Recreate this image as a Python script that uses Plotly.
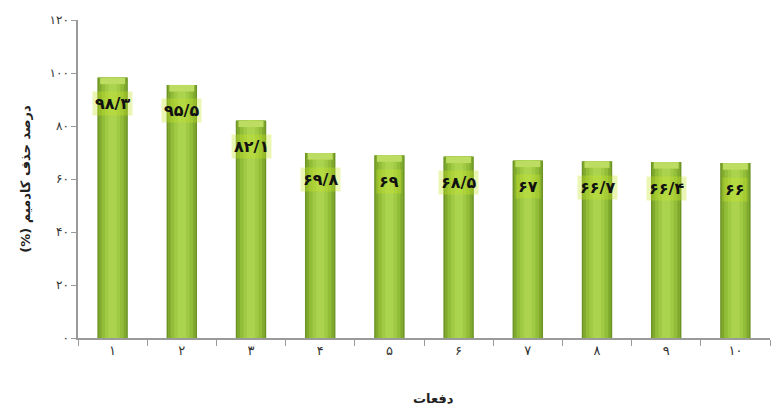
import plotly.graph_objects as go

categories = ["۱", "۲", "۳", "۴", "۵", "۶", "۷", "۸", "۹", "۱۰"]
values = [98.3, 95.5, 82.1, 69.8, 69, 68.5, 67, 66.7, 66.4, 66]
value_labels = ["۹۸/۳", "۹۵/۵", "۸۲/۱", "۶۹/۸", "۶۹", "۶۸/۵", "۶۷", "۶۶/۷", "۶۶/۴", "۶۶"]
y_tick_vals = [0, 20, 40, 60, 80, 100, 120]
y_tick_text = ["۰", "۲۰", "۴۰", "۶۰", "۸۰", "۱۰۰", "۱۲۰"]
x_title = "دفعات"
y_title = "درصد حذف کادمیم (%)"

font_family = "DejaVu Sans"
RLM = "\u200F"
cap_depth = 2.5  # visual depth of the lighter cylinder cap (in axis units)

fig = go.Figure()
# layered bars to imitate the cylindrical gradient
layers = [(0.44, "#6c9424"), (0.40, "#80aa2e"), (0.32, "#92bd38"), (0.22, "#a0c944"), (0.12, "#abd34e")]
for w, c in layers:
    fig.add_trace(go.Bar(
        x=categories, y=values, width=w,
        marker=dict(color=c, line=dict(width=0)),
        hoverinfo="skip", showlegend=False,
    ))
# lighter cap at the top of each bar
fig.add_trace(go.Bar(
    x=categories, y=[cap_depth] * len(values), base=[v - cap_depth for v in values], width=0.36,
    marker=dict(color="#bcdc62", line=dict(width=0)),
    hoverinfo="skip", showlegend=False,
))

for cat, v, lab in zip(categories, values, value_labels):
    fig.add_annotation(
        x=cat, y=v, yshift=-26, text="<b>" + lab + "</b>", showarrow=False,
        font=dict(family=font_family, size=16, color="#111111"),
        bgcolor="rgba(200,228,40,0.35)",
        borderpad=2,
    )

# axis titles
fig.add_annotation(
    xref="paper", yref="paper", x=0.514, y=-0.19, xanchor="center", yanchor="middle",
    text="<b>" + x_title + "</b>", showarrow=False,
    font=dict(family=font_family, size=13, color="#222222"),
)
fig.add_annotation(
    xref="paper", yref="paper", x=-0.077, y=0.5, xanchor="center", yanchor="middle",
    text="<b>" + RLM + y_title + RLM + "</b>", showarrow=False, textangle=-90,
    font=dict(family=font_family, size=13, color="#222222"),
)

fig.update_layout(
    width=779, height=410,
    margin=dict(l=70, r=17, t=12, b=80),
    barmode="overlay",
    plot_bgcolor="white", paper_bgcolor="white",
    font=dict(family=font_family, color="#222222"),
    xaxis=dict(
        type="category", automargin=False,
        showline=True, linecolor="#9a9a9a", linewidth=1.5,
        ticks="outside", tickson="boundaries", ticklen=6, tickcolor="#9a9a9a",
        tickfont=dict(size=13, color="#333333"),
        showgrid=False,
    ),
    yaxis=dict(
        range=[0, 120], automargin=False,
        tickvals=y_tick_vals, ticktext=y_tick_text,
        showline=True, linecolor="#9a9a9a", linewidth=1.5,
        ticks="outside", ticklen=5, tickcolor="#9a9a9a",
        tickfont=dict(size=12, color="#333333"),
        showgrid=False, zeroline=False,
    ),
)

fig.write_html("out.html")
